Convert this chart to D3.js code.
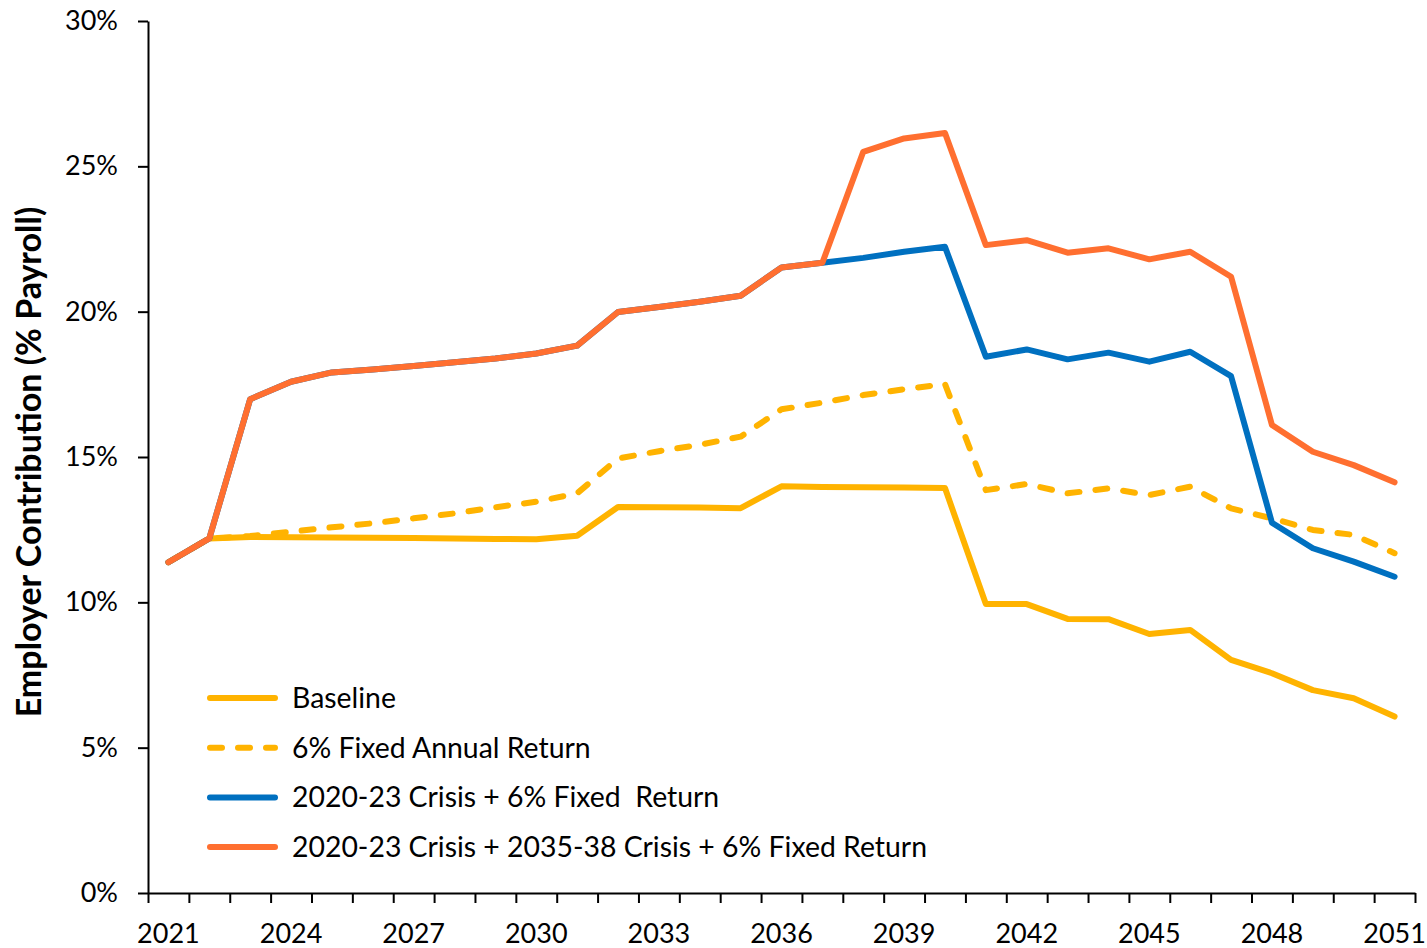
<!doctype html>
<html>
<head>
<meta charset="utf-8"/>
<title>Employer Contribution</title>
<script src="https://d3js.org/d3.v7.min.js"></script>
<style>
body { margin: 0; background: white; }
text { font-family: Lato, 'Noto Sans', sans-serif; }
</style>
</head>
<body>
<svg id="svg1"></svg>
<script>
// data (percent of payroll)
const years = d3.range(2021, 2052)
const yTicks = [0, 5, 10, 15, 20, 25, 30]

const baseline = [11.38, 12.2, 12.25, 12.24, 12.23, 12.22, 12.21, 12.2, 12.18, 12.17, 12.29,
    13.28, 13.27, 13.26, 13.24, 13.99, 13.97, 13.96, 13.95, 13.93,
    9.94, 9.94, 9.43, 9.42, 8.91, 9.05, 8.02, 7.56, 6.98, 6.7, 6.07]
const fixed6 = [11.38, 12.2, 12.28, 12.43, 12.58, 12.72, 12.89, 13.06, 13.27, 13.46, 13.75,
    14.95, 15.2, 15.42, 15.7, 16.64, 16.87, 17.13, 17.33, 17.51,
    13.86, 14.07, 13.75, 13.92, 13.69, 13.98, 13.23, 12.89, 12.49, 12.32, 11.69]
const crisis1 = [11.38, 12.2, 16.99, 17.59, 17.91, 18.01, 18.13, 18.26, 18.39, 18.56, 18.83,
    19.99, 20.16, 20.34, 20.55, 21.52, 21.68, 21.85, 22.06, 22.23,
    18.45, 18.7, 18.36, 18.59, 18.28, 18.62, 17.78, 12.74, 11.86, 11.4, 10.88]
const crisis2 = [11.38, 12.2, 16.99, 17.59, 17.91, 18.01, 18.13, 18.26, 18.39, 18.56, 18.83,
    19.99, 20.16, 20.34, 20.55, 21.52, 21.68, 25.5, 25.96, 26.15,
    22.29, 22.46, 22.03, 22.18, 21.8, 22.06, 21.2, 16.1, 15.18, 14.72, 14.13]

const seriesNames = ['Baseline', '6% Fixed Annual Return', '2020-23 Crisis + 6% Fixed  Return',
    '2020-23 Crisis + 2035-38 Crisis + 6% Fixed Return']
const seriesValues = [baseline, fixed6, crisis1, crisis2]
const seriesColors = ['#FFB300', '#FFB300', '#0070C0', '#FF6F30']
const seriesDash = [null, '12,16', null, null]

const width = 1427
const height = 948
const plotLeft = 148, plotRight = 1415, plotTop = 21, plotBottom = 893

const svg = d3.select('#svg1')
    .attr('width', width)
    .attr('height', height)

const x = d3.scaleBand().domain(years).range([plotLeft, plotRight]).padding(0)
const y = d3.scaleLinear().domain([0, 30]).range([plotBottom, plotTop])

// category boundaries for the tick marks
const xb = d3.scaleLinear().domain([0, years.length]).range([plotLeft, plotRight])

// lines
const line = d3.line()
    .x((d, i) => x(years[i]) + x.bandwidth() / 2)
    .y(d => y(d))

seriesValues.forEach((vals, k) => {
    svg.append('path')
        .datum(vals)
        .attr('d', line)
        .style('fill', 'none')
        .style('stroke', seriesColors[k])
        .style('stroke-width', 6)
        .style('stroke-linejoin', 'round')
        .style('stroke-linecap', 'round')
        .style('stroke-dasharray', seriesDash[k])
})

// axes
const yAxis = svg.append('g')
    .attr('transform', `translate(${plotLeft},0)`)
    .call(d3.axisLeft(y).tickValues(yTicks).tickFormat(d => d + '%').tickSize(10).tickSizeOuter(0).tickPadding(20))
yAxis.selectAll('text').style('font-size', '27px').style('fill', 'black')

const xTicks = svg.append('g')
    .attr('transform', `translate(0,${plotBottom})`)
    .call(d3.axisBottom(xb).tickValues(d3.range(0, years.length + 1)).tickFormat('').tickSize(10).tickSizeOuter(0))

const xLabels = svg.append('g')
    .attr('transform', `translate(0,${plotBottom})`)
    .call(d3.axisBottom(x).tickValues(years.filter((d, i) => i % 3 === 0)).tickSize(0).tickPadding(31))
xLabels.select('.domain').remove()
xLabels.selectAll('text').style('font-size', '27px').style('fill', 'black')

svg.selectAll('.domain, .tick line').style('stroke', 'black').style('stroke-width', 2)

// y axis title, sized to the span it has in the reference
const title = svg.append('text')
    .attr('transform', 'translate(41,462) rotate(-90)')
    .attr('text-anchor', 'middle')
    .style('font-size', '28px')
    .style('font-weight', 'bold')
    .text('Employer Contribution (% Payroll)')
const tLen = title.node().getComputedTextLength()
title.style('font-size', Math.min(34, 28 * 522 / tLen) + 'px')

// legend
const legend = svg.append('g')
seriesNames.forEach((name, k) => {
    const ly = 698 + k * 49.7
    legend.append('line')
        .attr('x1', 210).attr('x2', 275)
        .attr('y1', ly).attr('y2', ly)
        .style('stroke', seriesColors[k])
        .style('stroke-width', 6)
        .style('stroke-linecap', 'round')
        .style('stroke-dasharray', seriesDash[k])
    legend.append('text')
        .attr('x', 292).attr('y', ly)
        .attr('dy', '0.35em')
        .style('font-size', '28.4px')
        .style('white-space', 'pre')
        .text(name)
})
</script>
</body>
</html>
